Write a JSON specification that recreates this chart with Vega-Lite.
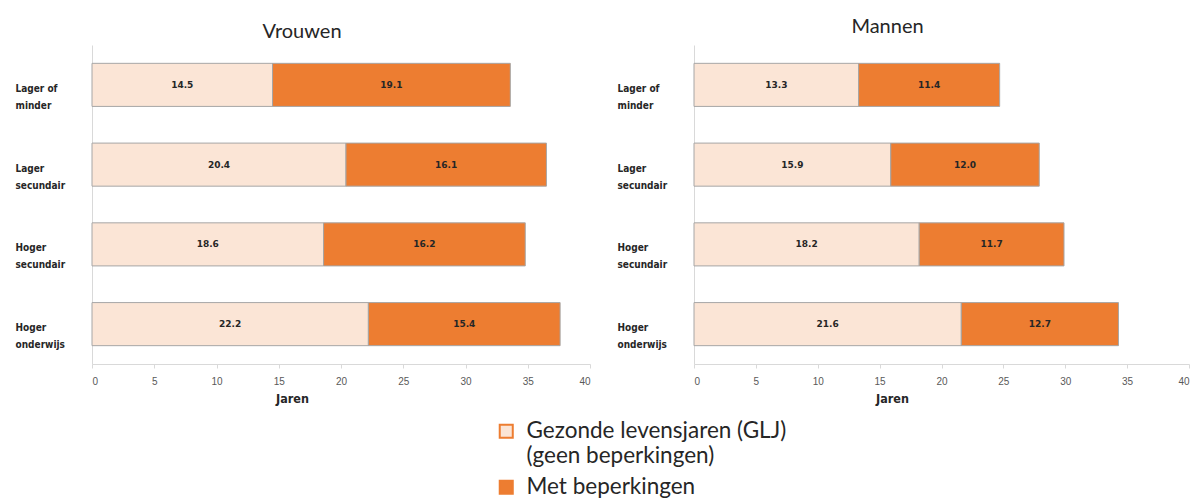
{
  "$schema": "https://vega.github.io/schema/vega-lite/v6.json",
  "padding": {"left": 15, "top": 17, "right": 8, "bottom": 2},
  "background": "white",
  "config": {
    "view": {"stroke": null},
    "title": {"font": "Lato", "fontSize": 20, "fontWeight": "normal", "color": "#262626", "offset": 3},
    "legend": {"orient": "none", "legendX": 403, "legendY": 375, "padding": 0}
  },
  "data": {"values": [
    {"sex": "Vrouwen", "cat": "Lager of minder", "type": "Gezonde levensjaren (GLJ) (geen beperkingen)", "value": 14.5},
    {"sex": "Vrouwen", "cat": "Lager of minder", "type": "Met beperkingen", "value": 19.1},
    {"sex": "Vrouwen", "cat": "Lager secundair", "type": "Gezonde levensjaren (GLJ) (geen beperkingen)", "value": 20.4},
    {"sex": "Vrouwen", "cat": "Lager secundair", "type": "Met beperkingen", "value": 16.1},
    {"sex": "Vrouwen", "cat": "Hoger secundair", "type": "Gezonde levensjaren (GLJ) (geen beperkingen)", "value": 18.6},
    {"sex": "Vrouwen", "cat": "Hoger secundair", "type": "Met beperkingen", "value": 16.2},
    {"sex": "Vrouwen", "cat": "Hoger onderwijs", "type": "Gezonde levensjaren (GLJ) (geen beperkingen)", "value": 22.2},
    {"sex": "Vrouwen", "cat": "Hoger onderwijs", "type": "Met beperkingen", "value": 15.4},
    {"sex": "Mannen", "cat": "Lager of minder", "type": "Gezonde levensjaren (GLJ) (geen beperkingen)", "value": 13.3},
    {"sex": "Mannen", "cat": "Lager of minder", "type": "Met beperkingen", "value": 11.4},
    {"sex": "Mannen", "cat": "Lager secundair", "type": "Gezonde levensjaren (GLJ) (geen beperkingen)", "value": 15.9},
    {"sex": "Mannen", "cat": "Lager secundair", "type": "Met beperkingen", "value": 12.0},
    {"sex": "Mannen", "cat": "Hoger secundair", "type": "Gezonde levensjaren (GLJ) (geen beperkingen)", "value": 18.2},
    {"sex": "Mannen", "cat": "Hoger secundair", "type": "Met beperkingen", "value": 11.7},
    {"sex": "Mannen", "cat": "Hoger onderwijs", "type": "Gezonde levensjaren (GLJ) (geen beperkingen)", "value": 21.6},
    {"sex": "Mannen", "cat": "Hoger onderwijs", "type": "Met beperkingen", "value": 12.7}
  ]},
  "transform": [
    {"stack": "value", "groupby": ["sex", "cat"], "sort": [{"field": "type", "order": "ascending"}], "as": ["x0", "x1"]}
  ],
  "spacing": 26,
  "hconcat": [
    {
      "title": {"text": "Vrouwen", "dx": -39},
      "width": 498,
      "height": 319,
      "transform": [{"filter": "datum.sex == 'Vrouwen'"}],
      "encoding": {
        "y": {"field": "cat", "type": "nominal", "sort": ["Lager of minder", "Lager secundair", "Hoger secundair", "Hoger onderwijs"],
          "scale": {"paddingInner": 0.46, "paddingOuter": 0.23},
          "axis": {"title": null, "ticks": false, "tickSize": 0, "labelAlign": "left", "labelPadding": 77, "labelFont": "DejaVu Sans Condensed", "labelFontWeight": "bold", "labelFontSize": 10, "labelColor": "#262626", "labelLineHeight": 17, "labelOffset": 4, "domainColor": "#d9d9d9",
            "labelExpr": "datum.value == 'Lager of minder' ? ['Lager of', 'minder'] : split(datum.value, ' ')"}}
      },
      "layer": [
        {"mark": {"type": "bar", "stroke": "#a6a6a6", "strokeWidth": 1},
         "encoding": {
           "x": {"field": "x0", "type": "quantitative", "scale": {"domain": [0, 40]},
             "axis": {"values": [0, 5, 10, 15, 20, 25, 30, 35, 40], "grid": false, "domainColor": "#d9d9d9", "tickColor": "#d9d9d9", "tickSize": 4, "labelColor": "#595959", "labelFont": "Liberation Sans", "labelFontSize": 10, "labelPadding": 8, "title": "Jaren", "titleFont": "DejaVu Sans Condensed", "titleFontWeight": "bold", "titleFontSize": 12.5, "titleColor": "#262626", "titleX": 200, "titlePadding": 6}},
           "x2": {"field": "x1"},
           "color": {"field": "type", "type": "nominal", "scale": {"domain": ["Gezonde levensjaren (GLJ) (geen beperkingen)", "Met beperkingen"], "range": ["#FBE5D6", "#ED7D31"]},
             "legend": {"title": null, "symbolType": "square", "symbolSize": 170, "symbolStrokeColor": "#ED7D31", "symbolStrokeWidth": 2, "labelFont": "Lato", "labelFontSize": 22.5, "labelColor": "#262626", "labelLineHeight": 29, "rowPadding": 8, "labelOffset": 9, "labelLimit": 400,
               "labelExpr": "datum.label == 'Met beperkingen' ? datum.label : ['Gezonde levensjaren (GLJ)', '(geen beperkingen)']",
               "encode": {
                 "symbols": {"update": {"stroke": {"value": "#ED7D31"}, "strokeWidth": {"value": 2}}}
               }}}
         }},
        {"transform": [{"fold": ["x0", "x1"], "as": ["edge", "pos"]}],
         "mark": {"type": "text", "font": "DejaVu Sans", "fontWeight": "bold", "fontSize": 9, "color": "#262626"},
         "encoding": {
           "x": {"aggregate": "mean", "field": "pos", "type": "quantitative"},
           "detail": {"field": "type"},
           "text": {"field": "value", "type": "quantitative", "format": ".1f"}
         }}
      ]
    },
    {
      "title": {"text": "Mannen", "dx": -54, "dy": -5},
      "width": 495,
      "height": 319,
      "transform": [{"filter": "datum.sex == 'Mannen'"}],
      "encoding": {
        "y": {"field": "cat", "type": "nominal", "sort": ["Lager of minder", "Lager secundair", "Hoger secundair", "Hoger onderwijs"],
          "scale": {"paddingInner": 0.46, "paddingOuter": 0.23},
          "axis": {"title": null, "ticks": false, "tickSize": 0, "labelAlign": "left", "labelPadding": 77, "labelFont": "DejaVu Sans Condensed", "labelFontWeight": "bold", "labelFontSize": 10, "labelColor": "#262626", "labelLineHeight": 17, "labelOffset": 4, "domainColor": "#d9d9d9",
            "labelExpr": "datum.value == 'Lager of minder' ? ['Lager of', 'minder'] : split(datum.value, ' ')"}}
      },
      "layer": [
        {"mark": {"type": "bar", "stroke": "#a6a6a6", "strokeWidth": 1},
         "encoding": {
           "x": {"field": "x0", "type": "quantitative", "scale": {"domain": [0, 40]},
             "axis": {"values": [0, 5, 10, 15, 20, 25, 30, 35, 40], "grid": false, "domainColor": "#d9d9d9", "tickColor": "#d9d9d9", "tickSize": 4, "labelColor": "#595959", "labelFont": "Liberation Sans", "labelFontSize": 10, "labelPadding": 8, "title": "Jaren", "titleFont": "DejaVu Sans Condensed", "titleFontWeight": "bold", "titleFontSize": 12.5, "titleColor": "#262626", "titleX": 198, "titlePadding": 6}},
           "x2": {"field": "x1"},
           "color": {"field": "type", "type": "nominal"}
         }},
        {"transform": [{"fold": ["x0", "x1"], "as": ["edge", "pos"]}],
         "mark": {"type": "text", "font": "DejaVu Sans", "fontWeight": "bold", "fontSize": 9, "color": "#262626"},
         "encoding": {
           "x": {"aggregate": "mean", "field": "pos", "type": "quantitative"},
           "detail": {"field": "type"},
           "text": {"field": "value", "type": "quantitative", "format": ".1f"}
         }}
      ]
    }
  ]
}
